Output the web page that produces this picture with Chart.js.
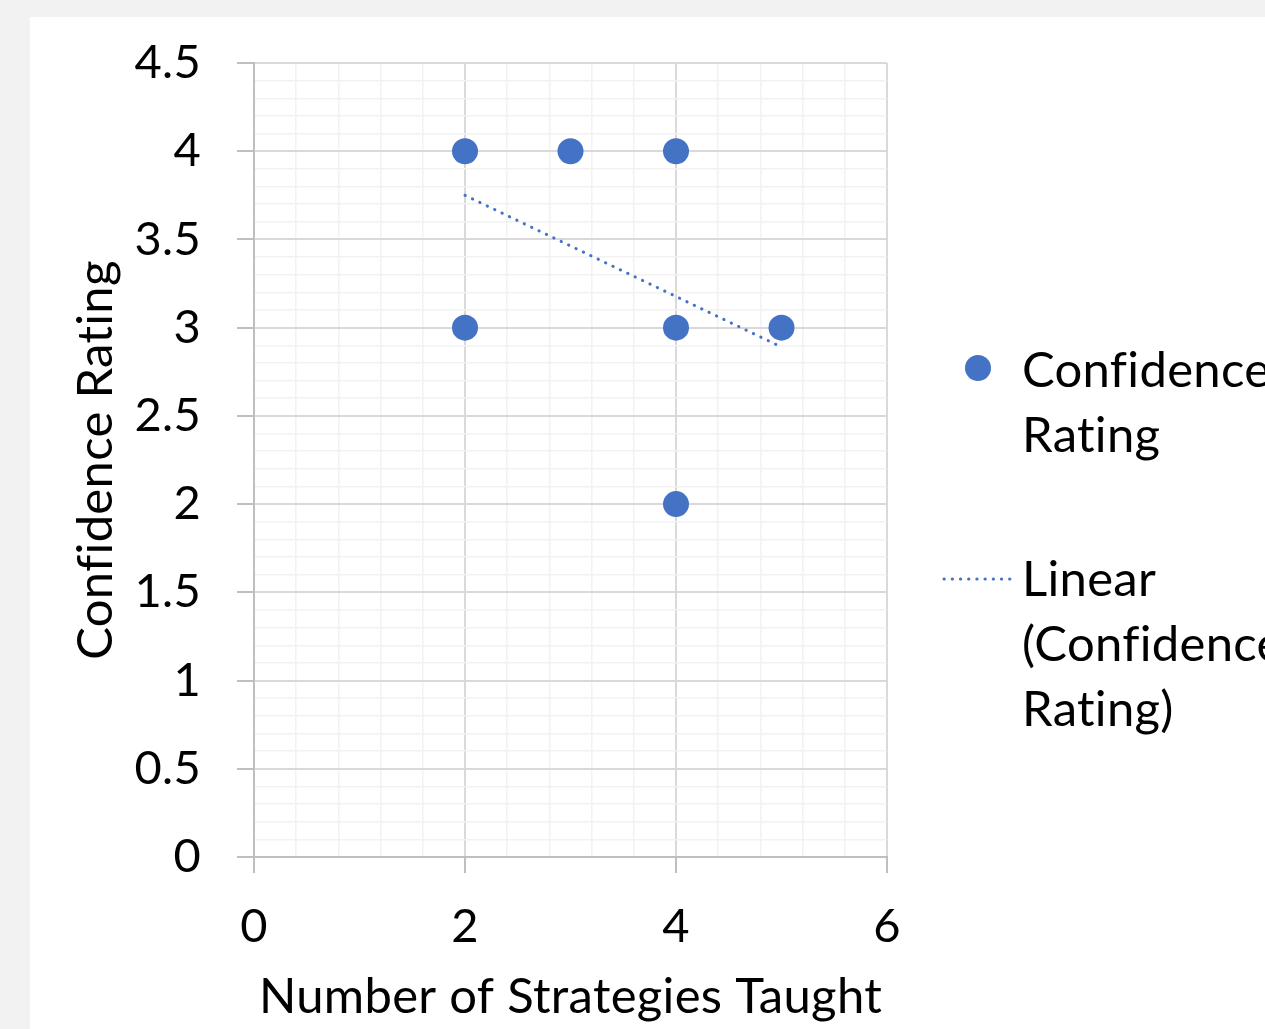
<!DOCTYPE html>
<html>
<head>
<meta charset="utf-8">
<script src="https://cdn.jsdelivr.net/npm/chart.js@4"></script>
<style>
  html, body { margin: 0; padding: 0; background: #f2f2f2; }
  body { width: 1265px; height: 1029px; position: relative; overflow: hidden; }
  #frame { position: absolute; left: 30px; top: 17px; width: 1235px; height: 1012px; background: #ffffff; }
  #chart { display: block; }
</style>
</head>
<body>
<div id="frame"><canvas id="chart" width="1235" height="1012"></canvas></div>
<script>
// Survey responses: strategies taught vs. confidence rating
const strategiesTaught = [2, 3, 4, 2, 4, 5, 4];
const confidenceRating = [4, 4, 4, 3, 3, 3, 2];

// Linear trendline end points
const trendX = [2, 5];
const trendY = [3.75, 2.89];

// Axis settings
const xTickLabels = [0, 2, 4, 6];
const yTickLabels = [0, 0.5, 1, 1.5, 2, 2.5, 3, 3.5, 4, 4.5];

const seriesName = 'Confidence Rating';
const trendName = 'Linear (Confidence Rating)';
const xTitle = 'Number of Strategies Taught';
const yTitle = 'Confidence Rating';

const BLUE = '#4472C4';
const FONT = 'Lato, "Open Sans", sans-serif';
const FS = 47;
const TITLE_FS = 49;

const isLabelled = (list, v) => list.some(t => Math.abs(t - v) < 1e-6);

const points = strategiesTaught.map((x, i) => ({ x, y: confidenceRating[i] }));
const trend = trendX.map((x, i) => ({ x, y: trendY[i] }));

// Plain glyph rendering (no "fi" ligature)
const plainText = {
  id: 'plainText',
  beforeDraw(chart) {
    const ctx = chart.ctx;
    if ('letterSpacing' in ctx) ctx.letterSpacing = '0.3px';
    if ('textRendering' in ctx) ctx.textRendering = 'optimizeSpeed';
  }
};

// Legend with wrapped entries, drawn to the right of the plot
const wrappedLegend = {
  id: 'wrappedLegend',
  afterDraw(chart) {
    const ctx = chart.ctx;
    ctx.save();
    if ('letterSpacing' in ctx) ctx.letterSpacing = '0.3px';
    ctx.font = TITLE_FS + 'px ' + FONT;
    ctx.fillStyle = '#000000';
    ctx.textAlign = 'left';
    ctx.textBaseline = 'alphabetic';
    const tx = 992;
    // scatter marker
    ctx.beginPath();
    ctx.fillStyle = BLUE;
    ctx.arc(948, 351, 13, 0, Math.PI * 2);
    ctx.fill();
    ctx.fillStyle = '#000000';
    ['Confidence', 'Rating'].forEach((s, i) => ctx.fillText(s, tx, 370 + i * 65));
    // trendline marker
    ctx.beginPath();
    ctx.strokeStyle = BLUE;
    ctx.lineWidth = 3;
    ctx.lineCap = 'round';
    ctx.setLineDash([0.3, 7.9]);
    ctx.moveTo(914, 562);
    ctx.lineTo(981, 562);
    ctx.stroke();
    ctx.setLineDash([]);
    ['Linear', '(Confidence', 'Rating)'].forEach((s, i) => ctx.fillText(s, tx, 579 + i * 65));
    ctx.restore();
  }
};

new Chart(document.getElementById('chart'), {
  type: 'scatter',
  data: {
    datasets: [
      {
        label: seriesName,
        data: points,
        backgroundColor: BLUE,
        borderColor: BLUE,
        borderWidth: 0,
        pointRadius: 13,
        pointHoverRadius: 13,
        order: 1
      },
      {
        label: trendName,
        type: 'line',
        data: trend,
        showLine: true,
        fill: false,
        borderColor: BLUE,
        borderWidth: 3,
        borderDash: [0.3, 7.9],
        borderCapStyle: 'round',
        pointRadius: 0,
        order: 2
      }
    ]
  },
  options: {
    responsive: false,
    animation: false,
    events: [],
    layout: { padding: { top: 46, right: 378, bottom: 0, left: 0 } },
    plugins: {
      legend: { display: false },
      tooltip: { enabled: false }
    },
    scales: {
      x: {
        type: 'linear',
        min: 0,
        max: 6,
        afterFit: s => { s.height = 172; },
        ticks: {
          stepSize: 0.4,
          autoSkip: false,
          maxRotation: 0,
          padding: 26,
          color: '#000000',
          font: { family: FONT, size: FS },
          callback: v => isLabelled(xTickLabels, v) ? String(Math.round(v)) : ''
        },
        grid: {
          color: c => isLabelled(xTickLabels, c.tick.value) ? '#d9d9d9' : '#f2f2f2',
          lineWidth: c => isLabelled(xTickLabels, c.tick.value) ? 2 : 1.5,
          tickColor: c => isLabelled(xTickLabels, c.tick.value) ? '#bfbfbf' : 'rgba(0,0,0,0)',
          tickLength: 16,
          tickWidth: 2
        },
        border: { color: '#bfbfbf', width: 2 },
        title: {
          display: true,
          text: xTitle,
          color: '#000000',
          font: { family: FONT, size: TITLE_FS },
          padding: { top: 0, bottom: 2 }
        }
      },
      y: {
        type: 'linear',
        min: 0,
        max: 4.5,
        afterFit: s => { s.width = 224; s.paddingTop = 0; s.paddingBottom = 0; },
        ticks: {
          stepSize: 0.1,
          autoSkip: false,
          padding: 36,
          color: '#000000',
          font: { family: FONT, size: FS },
          callback: v => isLabelled(yTickLabels, v) ? String(Math.round(v * 10) / 10) : ''
        },
        grid: {
          color: c => isLabelled(yTickLabels, c.tick.value) ? '#d9d9d9' : '#f2f2f2',
          lineWidth: c => isLabelled(yTickLabels, c.tick.value) ? 2 : 1.5,
          tickColor: c => isLabelled(yTickLabels, c.tick.value) ? '#bfbfbf' : 'rgba(0,0,0,0)',
          tickLength: 17,
          tickWidth: 2
        },
        border: { color: '#bfbfbf', width: 2 },
        title: {
          display: true,
          text: yTitle,
          color: '#000000',
          font: { family: FONT, size: TITLE_FS },
          padding: { top: 37, bottom: 0 }
        }
      }
    }
  },
  plugins: [plainText, wrappedLegend]
});
</script>
</body>
</html>
